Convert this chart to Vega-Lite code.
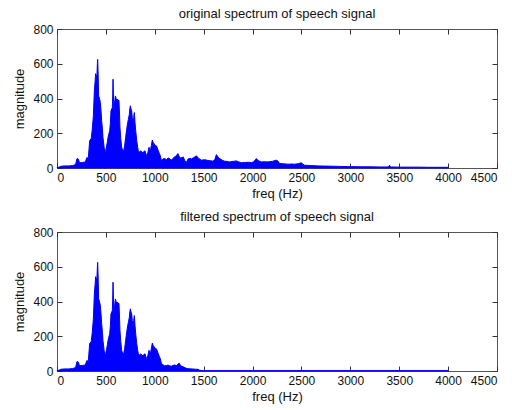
{
  "$schema": "https://vega.github.io/schema/vega-lite/v6.json",
  "background": "white",
  "padding": {"left": 13, "top": 7, "right": 5, "bottom": 0},
  "datasets": {
    "orig": [
      {"f":0,"m":2},{"f":20,"m":5},{"f":40,"m":10},{"f":80,"m":12},{"f":120,"m":12},{"f":160,"m":14},{"f":190,"m":20},{"f":205,"m":55},{"f":220,"m":50},{"f":230,"m":30},{"f":260,"m":32},{"f":290,"m":35},{"f":305,"m":60},{"f":320,"m":55},{"f":334,"m":157},{"f":350,"m":170},{"f":361,"m":224},{"f":372,"m":300},{"f":382,"m":444},{"f":390,"m":500},{"f":395,"m":543},{"f":402,"m":520},{"f":409,"m":540},{"f":413,"m":600},{"f":416,"m":625},{"f":420,"m":560},{"f":426,"m":415},{"f":435,"m":400},{"f":443,"m":377},{"f":450,"m":330},{"f":457,"m":272},{"f":465,"m":220},{"f":470,"m":176},{"f":480,"m":130},{"f":488,"m":90},{"f":497,"m":100},{"f":505,"m":119},{"f":515,"m":150},{"f":522,"m":176},{"f":530,"m":195},{"f":539,"m":214},{"f":546,"m":260},{"f":552,"m":329},{"f":560,"m":340},{"f":566,"m":348},{"f":570,"m":420},{"f":573,"m":511},{"f":577,"m":420},{"f":583,"m":329},{"f":590,"m":380},{"f":597,"m":415},{"f":605,"m":400},{"f":612,"m":390},{"f":617,"m":396},{"f":625,"m":380},{"f":630,"m":392},{"f":634,"m":386},{"f":640,"m":300},{"f":644,"m":233},{"f":652,"m":170},{"f":661,"m":119},{"f":670,"m":105},{"f":682,"m":99},{"f":692,"m":130},{"f":702,"m":176},{"f":712,"m":220},{"f":723,"m":262},{"f":730,"m":280},{"f":740,"m":310},{"f":745,"m":340},{"f":750,"m":358},{"f":757,"m":340},{"f":764,"m":329},{"f":770,"m":290},{"f":777,"m":252},{"f":784,"m":290},{"f":791,"m":319},{"f":798,"m":260},{"f":805,"m":214},{"f":815,"m":160},{"f":825,"m":119},{"f":832,"m":100},{"f":839,"m":90},{"f":850,"m":95},{"f":859,"m":99},{"f":870,"m":88},{"f":880,"m":90},{"f":890,"m":95},{"f":900,"m":99},{"f":910,"m":80},{"f":920,"m":71},{"f":930,"m":90},{"f":941,"m":119},{"f":948,"m":105},{"f":955,"m":99},{"f":965,"m":130},{"f":975,"m":161},{"f":985,"m":145},{"f":996,"m":138},{"f":1005,"m":130},{"f":1016,"m":128},{"f":1026,"m":115},{"f":1036,"m":99},{"f":1046,"m":85},{"f":1057,"m":71},{"f":1065,"m":50},{"f":1071,"m":42},{"f":1084,"m":52},{"f":1100,"m":55},{"f":1120,"m":48},{"f":1135,"m":58},{"f":1150,"m":55},{"f":1169,"m":45},{"f":1185,"m":55},{"f":1203,"m":64},{"f":1220,"m":70},{"f":1237,"m":83},{"f":1250,"m":65},{"f":1265,"m":58},{"f":1280,"m":60},{"f":1292,"m":64},{"f":1305,"m":45},{"f":1323,"m":31},{"f":1340,"m":52},{"f":1360,"m":55},{"f":1374,"m":52},{"f":1400,"m":60},{"f":1425,"m":70},{"f":1450,"m":55},{"f":1476,"m":45},{"f":1510,"m":48},{"f":1544,"m":43},{"f":1570,"m":42},{"f":1596,"m":39},{"f":1615,"m":50},{"f":1630,"m":77},{"f":1645,"m":65},{"f":1664,"m":54},{"f":1690,"m":45},{"f":1715,"m":39},{"f":1740,"m":38},{"f":1766,"m":35},{"f":1800,"m":38},{"f":1834,"m":41},{"f":1860,"m":35},{"f":1885,"m":30},{"f":1920,"m":32},{"f":1960,"m":33},{"f":1987,"m":31},{"f":2010,"m":35},{"f":2039,"m":54},{"f":2060,"m":42},{"f":2090,"m":35},{"f":2120,"m":36},{"f":2158,"m":35},{"f":2200,"m":38},{"f":2243,"m":45},{"f":2260,"m":40},{"f":2277,"m":26},{"f":2320,"m":24},{"f":2362,"m":22},{"f":2400,"m":23},{"f":2430,"m":22},{"f":2470,"m":25},{"f":2498,"m":30},{"f":2515,"m":22},{"f":2532,"m":16},{"f":2600,"m":14},{"f":2669,"m":12},{"f":2750,"m":11},{"f":2839,"m":10},{"f":2900,"m":9},{"f":2975,"m":8},{"f":3100,"m":7},{"f":3200,"m":7},{"f":3300,"m":6},{"f":3390,"m":6},{"f":3400,"m":16},{"f":3410,"m":6},{"f":3500,"m":5},{"f":3600,"m":5},{"f":3700,"m":5},{"f":3800,"m":4},{"f":3900,"m":4},{"f":4000,"m":4}
    ],
    "filt": [
      {"f":0,"m":2},{"f":20,"m":5},{"f":40,"m":10},{"f":80,"m":12},{"f":120,"m":12},{"f":160,"m":14},{"f":190,"m":20},{"f":205,"m":55},{"f":220,"m":50},{"f":230,"m":30},{"f":260,"m":32},{"f":290,"m":35},{"f":305,"m":60},{"f":320,"m":55},{"f":334,"m":157},{"f":350,"m":170},{"f":361,"m":224},{"f":372,"m":300},{"f":382,"m":444},{"f":390,"m":500},{"f":395,"m":543},{"f":402,"m":520},{"f":409,"m":540},{"f":413,"m":600},{"f":416,"m":625},{"f":420,"m":560},{"f":426,"m":415},{"f":435,"m":400},{"f":443,"m":377},{"f":450,"m":330},{"f":457,"m":272},{"f":465,"m":220},{"f":470,"m":176},{"f":480,"m":130},{"f":488,"m":90},{"f":497,"m":100},{"f":505,"m":119},{"f":515,"m":150},{"f":522,"m":176},{"f":530,"m":195},{"f":539,"m":214},{"f":546,"m":260},{"f":552,"m":329},{"f":560,"m":340},{"f":566,"m":348},{"f":570,"m":420},{"f":573,"m":511},{"f":577,"m":420},{"f":583,"m":329},{"f":590,"m":380},{"f":597,"m":415},{"f":605,"m":400},{"f":612,"m":390},{"f":617,"m":396},{"f":625,"m":380},{"f":630,"m":392},{"f":634,"m":386},{"f":640,"m":300},{"f":644,"m":233},{"f":652,"m":170},{"f":661,"m":119},{"f":670,"m":105},{"f":682,"m":99},{"f":692,"m":130},{"f":702,"m":176},{"f":712,"m":220},{"f":723,"m":262},{"f":730,"m":280},{"f":740,"m":310},{"f":745,"m":340},{"f":750,"m":358},{"f":757,"m":340},{"f":764,"m":329},{"f":770,"m":290},{"f":777,"m":252},{"f":784,"m":290},{"f":791,"m":319},{"f":798,"m":260},{"f":805,"m":214},{"f":815,"m":160},{"f":825,"m":119},{"f":832,"m":100},{"f":839,"m":90},{"f":850,"m":95},{"f":859,"m":99},{"f":870,"m":88},{"f":880,"m":90},{"f":890,"m":95},{"f":900,"m":99},{"f":910,"m":80},{"f":920,"m":71},{"f":930,"m":90},{"f":941,"m":119},{"f":948,"m":105},{"f":955,"m":99},{"f":965,"m":130},{"f":975,"m":161},{"f":985,"m":145},{"f":996,"m":138},{"f":1005,"m":130},{"f":1016,"m":128},{"f":1026,"m":115},{"f":1036,"m":99},{"f":1046,"m":85},{"f":1057,"m":71},{"f":1065,"m":50},{"f":1071,"m":42},{"f":1084,"m":35},{"f":1100,"m":30},{"f":1120,"m":32},{"f":1135,"m":34},{"f":1150,"m":30},{"f":1169,"m":28},{"f":1185,"m":32},{"f":1203,"m":35},{"f":1220,"m":30},{"f":1237,"m":40},{"f":1250,"m":45},{"f":1265,"m":30},{"f":1288,"m":25},{"f":1310,"m":18},{"f":1340,"m":13},{"f":1380,"m":12},{"f":1420,"m":10},{"f":1442,"m":10},{"f":1460,"m":4},{"f":1500,"m":2},{"f":2000,"m":2},{"f":2500,"m":2},{"f":3000,"m":2},{"f":3500,"m":2},{"f":4000,"m":2}
    ]
  },
  "config": {
    "font": "Liberation Sans",
    "view": {"stroke": "#555555", "strokeWidth": 1},
    "axis": {"grid": false, "domain": false, "tickSize": -5, "tickColor": "#333333", "labelFontSize": 12, "labelColor": "#111111", "titleFontSize": 13, "titleFontWeight": "normal", "titleColor": "#111111", "labelPadding": 9, "format": "d"},
    "axisX": {"titlePadding": 4},
    "axisY": {"titlePadding": 6},
    "title": {"fontSize": 13, "fontWeight": "normal", "color": "#111111", "frame": "group", "offset": 2}
  },
  "spacing": 9,
  "vconcat": [
    {
      "width": 440, "height": 139,
      "title": "original spectrum of speech signal",
      "data": {"name": "orig"},
      "layer": [
        {"mark": {"type": "area", "color": "#0000ff", "stroke": "#0000ff", "strokeWidth": 1},
         "encoding": {
           "x": {"field": "f", "type": "quantitative", "scale": {"domain": [0, 4500], "nice": false}, "axis": {"values": [0,500,1000,1500,2000,2500,3000,3500,4000,4500], "title": "freq (Hz)"}},
           "y": {"field": "m", "type": "quantitative", "scale": {"domain": [0, 800], "nice": false}, "axis": {"values": [0,200,400,600,800], "title": "magnitude"}}
         }},
        {"mark": {"type": "area", "opacity": 0},
         "encoding": {
           "x": {"field": "f", "type": "quantitative", "axis": {"orient": "top", "labels": false, "title": null, "values": [0,500,1000,1500,2000,2500,3000,3500,4000,4500]}},
           "y": {"field": "m", "type": "quantitative", "axis": {"orient": "right", "labels": false, "title": null, "values": [0,200,400,600,800]}}
         }}
      ],
      "resolve": {"axis": {"x": "independent", "y": "independent"}}
    },
    {
      "width": 440, "height": 139,
      "title": "filtered spectrum of speech signal",
      "data": {"name": "filt"},
      "layer": [
        {"mark": {"type": "area", "color": "#0000ff", "stroke": "#0000ff", "strokeWidth": 1},
         "encoding": {
           "x": {"field": "f", "type": "quantitative", "scale": {"domain": [0, 4500], "nice": false}, "axis": {"values": [0,500,1000,1500,2000,2500,3000,3500,4000,4500], "title": "freq (Hz)"}},
           "y": {"field": "m", "type": "quantitative", "scale": {"domain": [0, 800], "nice": false}, "axis": {"values": [0,200,400,600,800], "title": "magnitude"}}
         }},
        {"mark": {"type": "area", "opacity": 0},
         "encoding": {
           "x": {"field": "f", "type": "quantitative", "axis": {"orient": "top", "labels": false, "title": null, "values": [0,500,1000,1500,2000,2500,3000,3500,4000,4500]}},
           "y": {"field": "m", "type": "quantitative", "axis": {"orient": "right", "labels": false, "title": null, "values": [0,200,400,600,800]}}
         }}
      ],
      "resolve": {"axis": {"x": "independent", "y": "independent"}}
    }
  ]
}
